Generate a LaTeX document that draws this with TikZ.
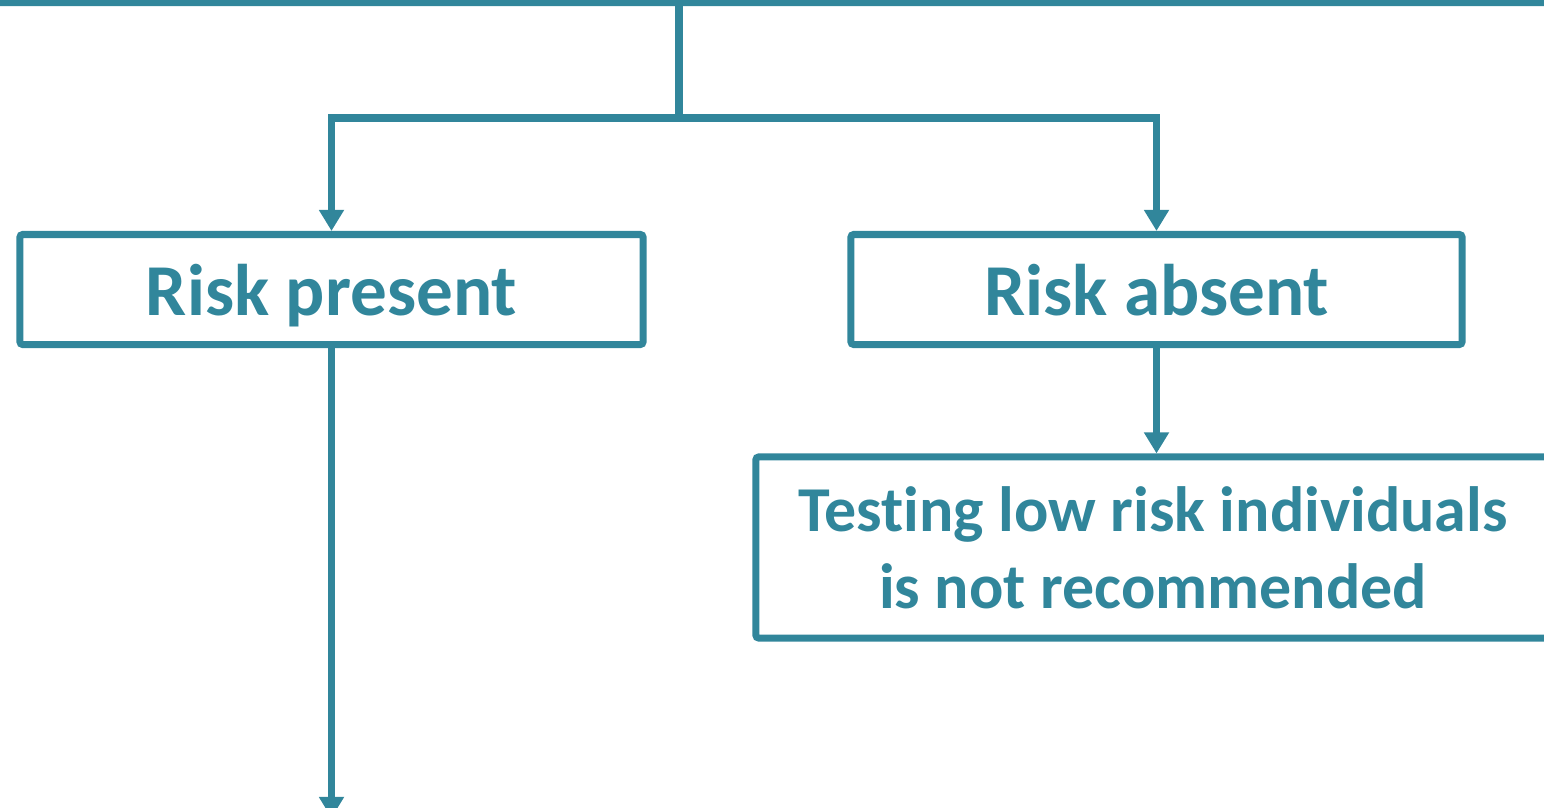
\documentclass[tikz,border=0pt]{standalone}
\usepackage{fontspec}
\setmainfont[RawFeature={-liga}]{Carlito}
\usetikzlibrary{arrows.meta,positioning,calc}
\definecolor{flowteal}{HTML}{31869B}

\begin{document}
\begin{tikzpicture}[
        x=0.025cm, y=-0.025cm,
        box/.style={draw=flowteal, line width=5pt, rounded corners=2pt, inner sep=0pt, align=center, text=flowteal, font=\bfseries},
        risk/.style={box, minimum height=2.75cm, text depth=0pt, font=\fontsize{52}{62}\selectfont\bfseries},
        line/.style={draw=flowteal, line width=5pt},
        arrow/.style={line, -{Triangle[width=17pt, length=15pt]}}
    ]
        \useasboundingbox (0,0) rectangle (1544,808);

        % Top box (only its lower edge is in view)
        \node[box, minimum width=42cm, minimum height=5cm] (top) at (772,-97.5) {};

        % Row 1: risk split
        \node[risk, minimum width=15.575cm] (present) at (331.5,289.5) {Risk present};
        \node[risk, minimum width=15.275cm] (absent) at (1156.5,289.5) {Risk absent};

        % Row 2: low risk outcome
        \node[box, minimum width=19.85cm, minimum height=4.525cm, font=\fontsize{45.5}{54.7}\selectfont\bfseries] (notrec) at (1153,547.5) {Testing low risk individuals\\is not recommended};

        % Arrows
        \coordinate (split) at (679,118);
        \coordinate (exit) at (331.5,818);
        \draw[line] (top.south -| split) -- (split);
        \draw[arrow] (split) -| (present.north);
        \draw[arrow] (split) -| (absent.north);
        \draw[arrow] (absent.south) -- (absent.south |- notrec.north);
        \draw[arrow] (present.south) -- (exit);
    \end{tikzpicture}
\end{document}
